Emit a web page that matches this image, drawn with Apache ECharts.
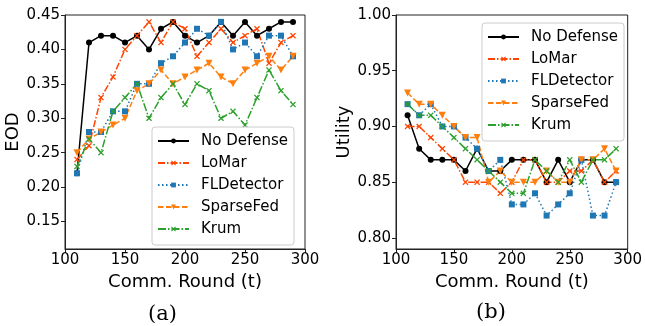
<!DOCTYPE html>
<html>
<head>
<meta charset="utf-8">
<script src="https://cdn.jsdelivr.net/npm/echarts@6/dist/echarts.min.js"></script>
<style>
  html, body { margin: 0; padding: 0; background: #fff; }
  #chart { width: 645px; height: 326px; }
</style>
</head>
<body>
<div id="chart"></div>
<script>
// communication rounds
const rounds = [110, 120, 130, 140, 150, 160, 170, 180, 190, 200, 210, 220, 230, 240, 250, 260, 270, 280, 290];

// (a) EOD
const eodNoDefense = [0.22, 0.41, 0.42, 0.42, 0.41, 0.42, 0.40, 0.43, 0.44, 0.42, 0.41, 0.42, 0.44, 0.42, 0.44, 0.42, 0.43, 0.44, 0.44];
const eodLoMar = [0.24, 0.26, 0.33, 0.36, 0.40, 0.42, 0.44, 0.41, 0.44, 0.43, 0.39, 0.41, 0.43, 0.41, 0.42, 0.43, 0.38, 0.41, 0.42];
const eodFLDetector = [0.22, 0.28, 0.28, 0.31, 0.31, 0.35, 0.35, 0.38, 0.39, 0.41, 0.43, 0.42, 0.44, 0.40, 0.41, 0.39, 0.42, 0.42, 0.39];
const eodSparseFed = [0.25, 0.27, 0.28, 0.29, 0.30, 0.34, 0.35, 0.37, 0.35, 0.36, 0.37, 0.38, 0.36, 0.35, 0.37, 0.38, 0.39, 0.37, 0.39];
const eodKrum = [0.23, 0.27, 0.25, 0.31, 0.33, 0.35, 0.30, 0.33, 0.35, 0.32, 0.35, 0.34, 0.30, 0.31, 0.29, 0.33, 0.37, 0.34, 0.32];

// (b) Utility
const utilNoDefense = [0.91, 0.88, 0.87, 0.87, 0.87, 0.86, 0.88, 0.86, 0.86, 0.87, 0.87, 0.87, 0.85, 0.87, 0.85, 0.87, 0.87, 0.85, 0.85];
const utilLoMar = [0.90, 0.90, 0.89, 0.88, 0.87, 0.85, 0.85, 0.85, 0.84, 0.85, 0.87, 0.87, 0.85, 0.85, 0.86, 0.86, 0.87, 0.85, 0.86];
const utilFLDetector = [0.92, 0.91, 0.92, 0.90, 0.90, 0.89, 0.88, 0.86, 0.87, 0.83, 0.83, 0.84, 0.82, 0.83, 0.84, 0.87, 0.82, 0.82, 0.85];
const utilSparseFed = [0.93, 0.92, 0.92, 0.91, 0.90, 0.89, 0.89, 0.85, 0.86, 0.85, 0.85, 0.85, 0.86, 0.85, 0.85, 0.87, 0.87, 0.88, 0.86];
const utilKrum = [0.92, 0.91, 0.91, 0.90, 0.89, 0.88, 0.87, 0.86, 0.85, 0.84, 0.84, 0.87, 0.86, 0.85, 0.87, 0.85, 0.87, 0.87, 0.88];

const xTicks = [100, 150, 200, 250, 300];
const eodTicks = [0.15, 0.20, 0.25, 0.30, 0.35, 0.40, 0.45];
const utilTicks = [0.80, 0.85, 0.90, 0.95, 1.00];

const names = ['No Defense', 'LoMar', 'FLDetector', 'SparseFed', 'Krum'];

const FONT = 'DejaVu Sans';
const xMarker = 'path://M0,1.5L1.5,0L5,3.5L8.5,0L10,1.5L6.5,5L10,8.5L8.5,10L5,6.5L1.5,10L0,8.5L3.5,5Z';
const triDown = 'path://M0,0L10,0L5,8.7Z';

// one style per method
const styles = [
  { color: '#000000', symbol: 'circle', size: 6, dash: 'solid' },
  { color: '#ff4500', symbol: xMarker, size: 6, dash: [7, 2, 1.5, 2] },
  { color: '#1f77b4', symbol: 'rect', size: 6, dash: [1.5, 2.5] },
  { color: '#ff7f0e', symbol: triDown, size: 7, dash: [5.5, 2.5] },
  { color: '#2ca02c', symbol: xMarker, size: 6, dash: [8, 2, 1.5, 2] }
];

const makeSeries = (values, idx, axisIdx) => ({
  name: names[idx],
  type: 'line',
  xAxisIndex: axisIdx,
  yAxisIndex: axisIdx,
  data: rounds.map((r, i) => [r, values[i]]),
  symbol: styles[idx].symbol,
  symbolSize: styles[idx].size,
  showAllSymbol: true,
  lineStyle: { width: 1.5, color: styles[idx].color, type: styles[idx].dash },
  itemStyle: { color: styles[idx].color, borderWidth: 0 },
  emphasis: { disabled: true }
});

const xAxisBase = (gridIndex) => ({
  gridIndex,
  type: 'value',
  min: 100,
  max: 300,
  interval: 50,
  name: 'Comm. Round (t)',
  nameLocation: 'middle',
  nameGap: 20,
  nameTextStyle: { fontFamily: FONT, fontSize: 18, color: '#000' },
  splitLine: { show: false },
  axisLine: { show: true, onZero: false, lineStyle: { color: '#222', width: 1 } },
  axisTick: { show: true, inside: false, length: 4, lineStyle: { color: '#222' }, customValues: xTicks },
  axisLabel: { fontFamily: FONT, fontSize: 15, color: '#000', margin: 4, customValues: xTicks }
});

const yAxisBase = (gridIndex, name, min, max, ticks, gap) => ({
  gridIndex,
  type: 'value',
  min,
  max,
  name,
  nameLocation: 'middle',
  nameGap: gap,
  nameTextStyle: { fontFamily: FONT, fontSize: 18, color: '#000' },
  splitLine: { show: false },
  axisLine: { show: true, onZero: false, lineStyle: { color: '#222', width: 1 } },
  axisTick: { show: true, inside: false, length: 4, lineStyle: { color: '#222' }, customValues: ticks },
  axisLabel: {
    fontFamily: FONT, fontSize: 15, color: '#000', margin: 5,
    customValues: ticks,
    formatter: (v) => v.toFixed(2)
  }
});

const legendBase = (left, top) => ({
  orient: 'vertical',
  left,
  top,
  data: names,
  itemWidth: 31,
  itemHeight: 6,
  itemGap: 0,
  padding: [3, 6, 5, 5],
  borderColor: '#cccccc',
  borderWidth: 1,
  borderRadius: 3,
  backgroundColor: 'rgba(255,255,255,0.8)',
  selectedMode: false,
  textStyle: { fontFamily: FONT, fontSize: 15, color: '#000', lineHeight: 22, padding: [0, 0, 0, 7] }
});

const option = {
  animation: false,
  backgroundColor: '#fff',
  grid: [
    { left: 65, top: 15, width: 240, height: 234, show: true, borderColor: '#222', borderWidth: 1, backgroundColor: 'transparent' },
    { left: 396, top: 15, width: 236, height: 234, show: true, borderColor: '#222', borderWidth: 1, backgroundColor: 'transparent' }
  ],
  xAxis: [xAxisBase(0), xAxisBase(1)],
  yAxis: [
    yAxisBase(0, 'EOD', 0.11, 0.45, eodTicks, 37),
    yAxisBase(1, 'Utility', 0.79, 1.0, utilTicks, 39)
  ],
  legend: [legendBase(152, 127), legendBase(482, 23)],
  title: [
    { text: '(a)', left: 148, top: 304, textStyle: { fontFamily: 'DejaVu Serif', fontSize: 21, fontWeight: 'normal', color: '#000' }, padding: 0 },
    { text: '(b)', left: 476, top: 302, textStyle: { fontFamily: 'DejaVu Serif', fontSize: 21, fontWeight: 'normal', color: '#000' }, padding: 0 }
  ],
  series: [
    makeSeries(eodNoDefense, 0, 0),
    makeSeries(eodLoMar, 1, 0),
    makeSeries(eodFLDetector, 2, 0),
    makeSeries(eodSparseFed, 3, 0),
    makeSeries(eodKrum, 4, 0),
    makeSeries(utilNoDefense, 0, 1),
    makeSeries(utilLoMar, 1, 1),
    makeSeries(utilFLDetector, 2, 1),
    makeSeries(utilSparseFed, 3, 1),
    makeSeries(utilKrum, 4, 1)
  ]
};

const chart = echarts.init(document.getElementById('chart'), null, { renderer: 'canvas' });
chart.setOption(option);
</script>
</body>
</html>
